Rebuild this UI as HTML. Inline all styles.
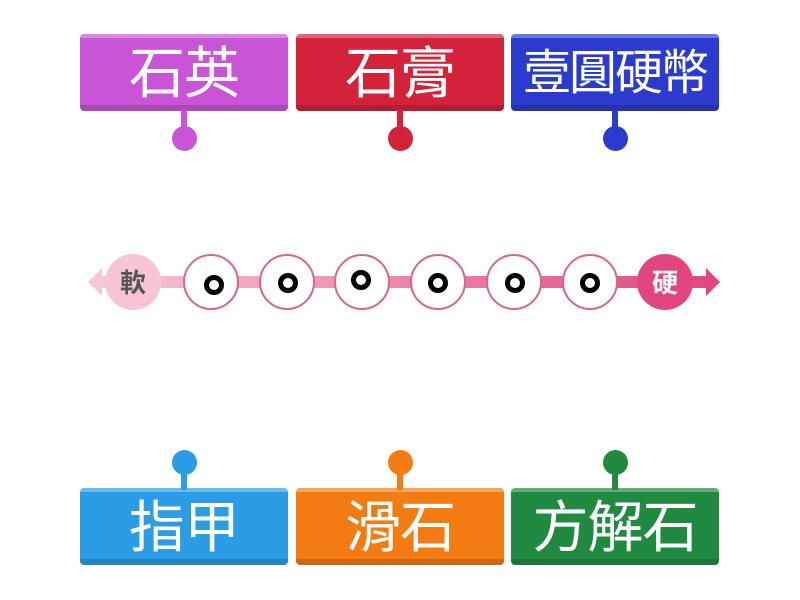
<!DOCTYPE html>
<html><head><meta charset="utf-8"><style>
body{margin:0;width:800px;height:600px;background:#fff;overflow:hidden;position:relative;font-family:"Liberation Sans","Noto Sans CJK TC",sans-serif}
.b{position:absolute;width:208px;height:77px;border-radius:4px;color:#fff;font-size:56px;line-height:72px;text-align:center;box-sizing:border-box;border-top:4px solid rgba(255,255,255,.3);border-bottom:6px solid rgba(0,0,0,.15);white-space:nowrap;letter-spacing:-1px}
.s{position:absolute;width:6px;height:22px}
.d{position:absolute;width:25px;height:25px;border-radius:50%}
.c{position:absolute;width:56px;height:56px;border-radius:50%;background:#fff;border:2px solid #d9658f;box-sizing:border-box}
.o{position:absolute;width:20px;height:20px;border:5px solid #000;border-radius:50%;box-sizing:border-box}
</style></head><body>
<div class="b" style="left:80px;top:34px;background:#c954d8">石英</div>
<div class="b" style="left:296px;top:34px;background:#d5223b">石膏</div>
<div class="b" style="left:511px;top:34px;background:#2b3bcf;font-size:48px;letter-spacing:-2px">壹圓硬幣</div>
<div class="s" style="left:181px;top:110px;background:#c954d8"></div><div class="d" style="left:172px;top:126px;background:#c954d8"></div>
<div class="s" style="left:397px;top:110px;background:#d5223b"></div><div class="d" style="left:388px;top:126px;background:#d5223b"></div>
<div class="s" style="left:612px;top:110px;background:#2b3bcf"></div><div class="d" style="left:603px;top:126px;background:#2b3bcf"></div>

<div class="b" style="left:80px;top:488px;background:#2a9de6">指甲</div>
<div class="b" style="left:296px;top:488px;background:#f47b12">滑石</div>
<div class="b" style="left:511px;top:488px;background:#1f8a40">方解石</div>
<div class="s" style="left:181px;top:468px;background:#2a9de6"></div><div class="d" style="left:172px;top:450px;background:#2a9de6"></div>
<div class="s" style="left:397px;top:468px;background:#f47b12"></div><div class="d" style="left:388px;top:450px;background:#f47b12"></div>
<div class="s" style="left:612px;top:468px;background:#1f8a40"></div><div class="d" style="left:603px;top:450px;background:#1f8a40"></div>

<svg style="position:absolute;left:0;top:0" width="800" height="600">
<defs><linearGradient id="g" x1="0" x2="1"><stop offset="0" stop-color="#f7c6d8"/><stop offset="1" stop-color="#e2467f"/></linearGradient></defs>
<rect x="100" y="276" width="610" height="12" fill="url(#g)"/>
<polygon points="88,282 102,268 102,296" fill="#f7c6d8"/>
<polygon points="720,282 706,268 706,296" fill="#e2467f"/>
<circle cx="133" cy="282" r="28" fill="#f7c3d6"/>
<circle cx="665" cy="282" r="28" fill="#e2467f"/>
<text x="133" y="292" text-anchor="middle" font-size="26" fill="#555" font-family="Noto Sans CJK TC,sans-serif" font-weight="bold">軟</text>
<text x="665" y="292" text-anchor="middle" font-size="26" fill="#fff" font-family="Noto Sans CJK TC,sans-serif" font-weight="bold">硬</text>
</svg>
<div class="c" style="left:183px;top:254px"></div><div class="o" style="left:204px;top:275px"></div>
<div class="c" style="left:259px;top:254px"></div><div class="o" style="left:278px;top:273px"></div>
<div class="c" style="left:334px;top:254px"></div><div class="o" style="left:351px;top:270px"></div>
<div class="c" style="left:410px;top:254px"></div><div class="o" style="left:428px;top:273px"></div>
<div class="c" style="left:486px;top:254px"></div><div class="o" style="left:505px;top:273px"></div>
<div class="c" style="left:562px;top:254px"></div><div class="o" style="left:580px;top:273px"></div>
</body></html>
